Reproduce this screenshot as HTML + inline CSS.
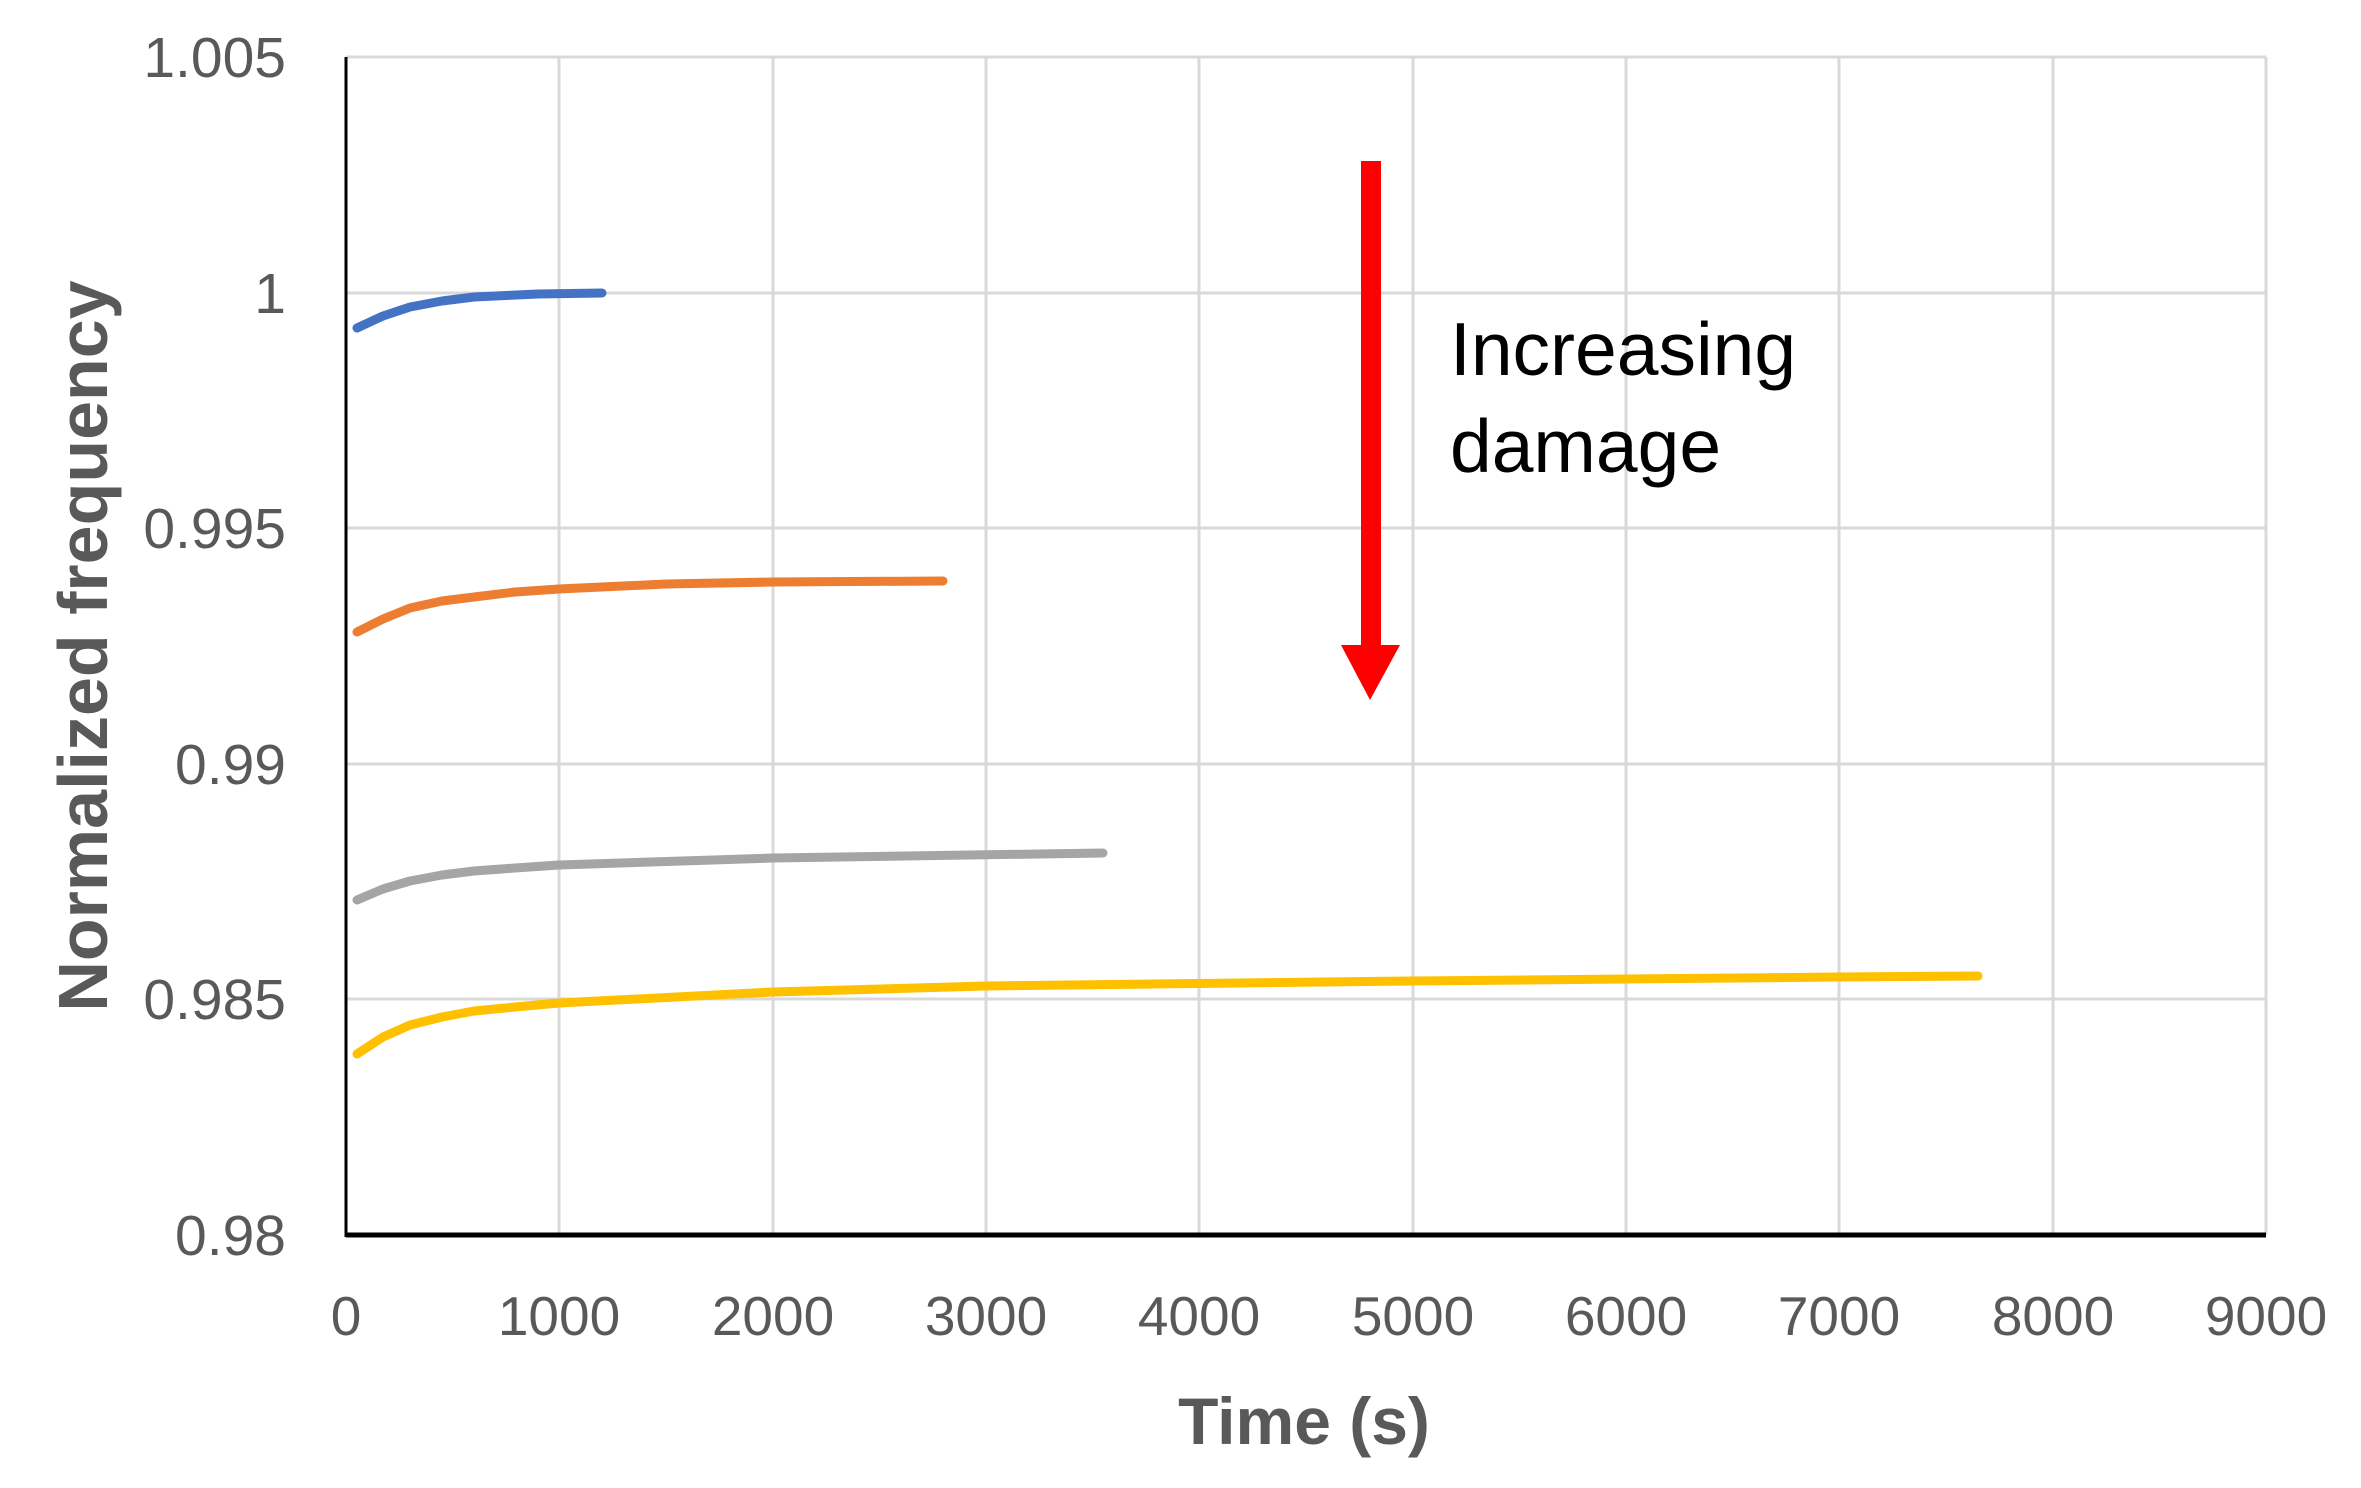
<!DOCTYPE html>
<html><head><style>body{margin:0;background:#fff}svg{display:block}</style></head><body>
<svg width="2361" height="1488" viewBox="0 0 2361 1488" xmlns="http://www.w3.org/2000/svg">
<g stroke="#d9d9d9" stroke-width="3">
<line x1="346" y1="57" x2="2266" y2="57"/>
<line x1="346" y1="293" x2="2266" y2="293"/>
<line x1="346" y1="528" x2="2266" y2="528"/>
<line x1="346" y1="764" x2="2266" y2="764"/>
<line x1="346" y1="999" x2="2266" y2="999"/>
<line x1="559" y1="57" x2="559" y2="1235"/>
<line x1="773" y1="57" x2="773" y2="1235"/>
<line x1="986" y1="57" x2="986" y2="1235"/>
<line x1="1199" y1="57" x2="1199" y2="1235"/>
<line x1="1413" y1="57" x2="1413" y2="1235"/>
<line x1="1626" y1="57" x2="1626" y2="1235"/>
<line x1="1839" y1="57" x2="1839" y2="1235"/>
<line x1="2053" y1="57" x2="2053" y2="1235"/>
<line x1="2266" y1="57" x2="2266" y2="1235"/>
</g>
<line x1="346" y1="57" x2="346" y2="1237" stroke="#000" stroke-width="3"/>
<line x1="346" y1="1235" x2="2266" y2="1235" stroke="#000" stroke-width="5"/>
<g fill="none" stroke-width="9" stroke-linecap="round" stroke-linejoin="round">
<polyline stroke="#4472C4" points="357,328 383,316 410,307 442,301 474,297 538,294 602,293"/>
<polyline stroke="#ED7D31" points="357,632 383,619 410,608 442,601 474,597 515,592 559,589 666,584 773,582 943,581"/>
<polyline stroke="#A5A5A5" points="357,900 383,889 410,881 442,875 474,871 515,868 559,865 773,858 1103,853"/>
<polyline stroke="#FFC000" points="357,1054 383,1037 410,1025 442,1017 474,1011 515,1007 559,1003 773,992 986,986 1413,981 1839,977 1978,976"/>
</g>
<rect x="1361" y="161" width="20" height="486" fill="#ff0000"/>
<polygon points="1341,645 1400,645 1370,700" fill="#ff0000"/>
<g font-family="Liberation Sans, sans-serif" font-size="57" fill="#595959" text-anchor="end">
<text x="286" y="77">1.005</text>
<text x="286" y="313">1</text>
<text x="286" y="548">0.995</text>
<text x="286" y="784">0.99</text>
<text x="286" y="1019">0.985</text>
<text x="286" y="1255">0.98</text>
</g>
<g font-family="Liberation Sans, sans-serif" font-size="55" fill="#595959" text-anchor="middle">
<text x="346" y="1335">0</text>
<text x="559" y="1335">1000</text>
<text x="773" y="1335">2000</text>
<text x="986" y="1335">3000</text>
<text x="1199" y="1335">4000</text>
<text x="1413" y="1335">5000</text>
<text x="1626" y="1335">6000</text>
<text x="1839" y="1335">7000</text>
<text x="2053" y="1335">8000</text>
<text x="2266" y="1335">9000</text>
</g>
<text x="1304" y="1444" font-family="Liberation Sans, sans-serif" font-size="66" font-weight="bold" fill="#595959" text-anchor="middle">Time (s)</text>
<text transform="translate(107,646) rotate(-90)" font-family="Liberation Sans, sans-serif" font-size="70" font-weight="bold" fill="#595959" text-anchor="middle">Normalized frequency</text>
<g font-family="Liberation Sans, sans-serif" font-size="75" fill="#000">
<text x="1450" y="375">Increasing</text>
<text x="1450" y="472">damage</text>
</g>
</svg>
</body></html>
